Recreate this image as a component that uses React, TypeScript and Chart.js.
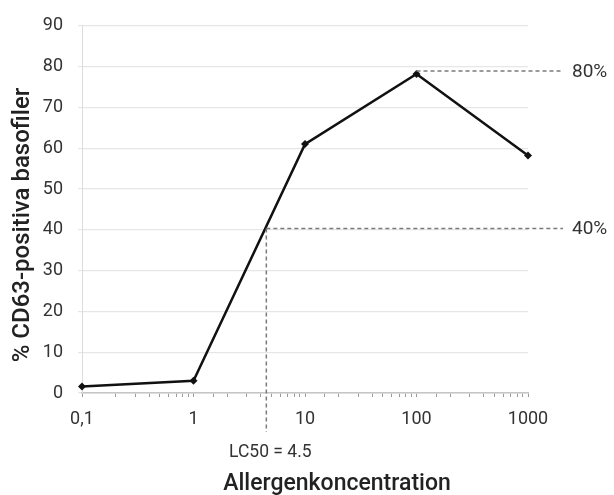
import React, { useEffect, useRef } from "react";
import { Chart, registerables } from "chart.js";

Chart.register(...registerables);

const concentrations = [0.1, 1, 10, 100, 1000];
const percentPositive = [1.6, 3.0, 61, 78.2, 58.2];
const xTickValues = [0.1, 1, 10, 100, 1000];
const xTickLabels = ["0,1", "1", "10", "100", "1000"];
const lc50 = 4.5;
const refLow = 40.3;
const refHigh = 78.9;
const refLowLabel = "40%";
const refHighLabel = "80%";
const lc50Label = "LC50 = 4.5";
const xTitle = "Allergenkoncentration";
const yTitle = "% CD63-positiva basofiler";

const FONT = "Roboto, 'DejaVu Sans', sans-serif";

const annotate = {
  id: "annotate",
  afterDatasetsDraw(chart: any) {
    const { ctx, scales } = chart;
    const x = scales.x;
    const y = scales.y;
    const xl = x.getPixelForValue(lc50);
    const yLow = y.getPixelForValue(refLow);
    const yHigh = y.getPixelForValue(refHigh);
    const xPeak = x.getPixelForValue(100);
    const xEnd = chart.chartArea.right + 35;
    ctx.save();
    ctx.strokeStyle = "#7a7a7a";
    ctx.lineWidth = 1.5;
    ctx.setLineDash([4, 3]);
    ctx.beginPath();
    ctx.moveTo(xl, yLow);
    ctx.lineTo(xEnd, yLow);
    ctx.moveTo(xl, yLow);
    ctx.lineTo(xl, chart.chartArea.bottom + 39);
    ctx.moveTo(xPeak, yHigh);
    ctx.lineTo(xEnd, yHigh);
    ctx.stroke();
    ctx.setLineDash([]);
    ctx.fillStyle = "#333";
    ctx.font = `19px ${FONT}`;
    ctx.textBaseline = "middle";
    ctx.textAlign = "left";
    ctx.fillText(refHighLabel, xEnd + 9, yHigh + 1);
    ctx.fillText(refLowLabel, xEnd + 9, yLow + 1);
    ctx.font = `17.5px ${FONT}`;
    ctx.textAlign = "center";
    ctx.fillText(lc50Label, xl + 4, chart.chartArea.bottom + 60);
    ctx.fillStyle = "#222";
    ctx.font = `500 23px ${FONT}`;
    ctx.fillText(xTitle, 337, 484);
    ctx.font = `500 24px ${FONT}`;
    ctx.translate(23, 225);
    ctx.rotate(-Math.PI / 2);
    ctx.fillText(yTitle, 0, 0);
    ctx.restore();
  },
};

export default function App() {
  const ref = useRef<HTMLCanvasElement>(null);
  useEffect(() => {
    document.body.style.margin = "0";
    const chart = new Chart(ref.current!, {
      type: "line",
      data: {
        datasets: [
          {
            data: concentrations.map((c, i) => ({ x: c, y: percentPositive[i] })),
            borderColor: "#111",
            backgroundColor: "#111",
            borderWidth: 2.5,
            pointStyle: "rectRot",
            pointRadius: 4,
            pointBorderWidth: 0,
            tension: 0,
            clip: false,
          },
        ],
      },
      plugins: [annotate],
      options: {
        animation: false,
        responsive: false,
        layout: { padding: { top: 23, right: 86, left: 0, bottom: 0 } },
        plugins: { legend: { display: false }, tooltip: { enabled: false } },
        scales: {
          x: {
            type: "logarithmic",
            min: 0.1,
            max: 1000,
            afterFit: (s: any) => {
              s.height = 102;
            },
            afterBuildTicks: (s: any) => {
              s.ticks = s.ticks.filter((t: any) => t.value >= 0.1 && t.value <= 1000);
            },
            grid: {
              display: true,
              drawOnChartArea: false,
              drawTicks: true,
              tickLength: 4,
              color: "#9a9a9a",
            },
            border: { display: true, color: "#c4c4c4", width: 1.5 },
            ticks: {
              autoSkip: false,
              maxRotation: 0,
              padding: 12,
              color: "#333",
              font: { family: FONT, size: 18 },
              callback: (v: any) => {
                const i = xTickValues.findIndex((t) => Math.abs(t - Number(v)) < 1e-9);
                return i >= 0 ? xTickLabels[i] : "";
              },
            },
          },
          y: {
            min: 0,
            max: 90,
            afterFit: (s: any) => {
              s.width = 82;
            },
            grid: { color: "#e6e6e6", tickLength: 4, lineWidth: 1.2 },
            border: { display: true, color: "#dcdcdc" },
            ticks: {
              stepSize: 10,
              padding: 15,
              color: "#333",
              font: { family: FONT, size: 18 },
            },
          },
        },
      },
    });
    return () => chart.destroy();
  }, []);
  return (
    <div style={{ width: 614, height: 495 }}>
      <canvas ref={ref} width={614} height={495} />
    </div>
  );
}
